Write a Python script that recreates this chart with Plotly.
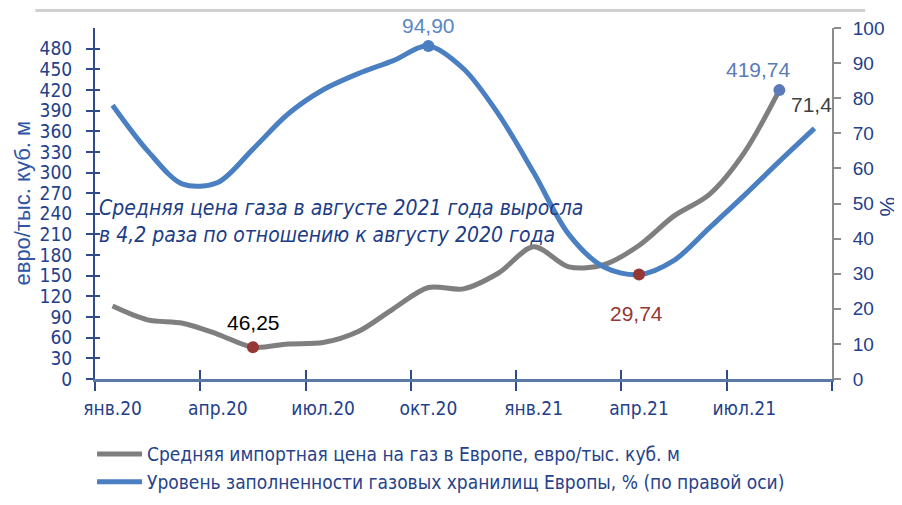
import numpy as np
import plotly.graph_objects as go

months = ["янв.20", "фев.20", "мар.20", "апр.20", "май.20", "июн.20", "июл.20",
          "авг.20", "сен.20", "окт.20", "ноя.20", "дек.20", "янв.21", "фев.21",
          "мар.21", "апр.21", "май.21", "июн.21", "июл.21", "авг.21", "сен.21"]
price = [106, 86, 81, 65, 46.25, 51, 53, 69, 102, 133, 131, 154, 192, 163,
         166, 194, 237, 268, 329, 419.74]
storage = [78, 65, 55.5, 56, 65.5, 75.5, 82.4, 87, 90.7, 94.9, 88.4, 75.4,
           58.8, 41.2, 31.9, 29.74, 33.8, 43, 52.3, 62, 71.4]
tick_labels = ["янв.20", "апр.20", "июл.20", "окт.20", "янв.21", "апр.21", "июл.21"]

price_name = "Средняя импортная цена на газ в Европе, евро/тыс. куб. м"
storage_name = "Уровень заполненности газовых хранилищ Европы, % (по правой оси)"
left_title = "евро/тыс. куб. м"
right_title = "%"
note = ("<i>Средняя цена газа в августе 2021 года выросла<br>"
        "в 4,2 раза по отношению к августу 2020 года</i>")

NARROW = "Liberation Sans Narrow, Arial Narrow, DejaVu Sans Condensed, sans-serif"
LF = "Liberation Sans, Arial, sans-serif"
NAVY = "#24408a"
BLUE = "#4a7fc1"
GRAY = "#7f7f7f"
RED = "#953735"

xpos = np.arange(len(months)) + 0.5
xp = xpos[:len(price)]
label_pos = [xpos[months.index(m)] for m in tick_labels]

i_pmin = int(np.argmin(price))
i_pmax = len(price) - 1
i_smax = int(np.argmax(storage))
i_smin = int(np.argmin(storage))
i_send = len(storage) - 1

fig = go.Figure()
fig.add_trace(go.Scatter(x=xp, y=price, mode="lines", name=price_name,
                         line=dict(color=GRAY, width=5, shape="spline", smoothing=0.9),
                         yaxis="y", xaxis="x"))
fig.add_trace(go.Scatter(x=xpos, y=storage, mode="lines", name=storage_name,
                         line=dict(color=BLUE, width=5, shape="spline", smoothing=0.9),
                         yaxis="y2", xaxis="x"))
fig.add_trace(go.Scatter(x=[xp[i_pmin], xp[i_pmax]], y=[price[i_pmin], price[i_pmax]],
                         mode="markers", showlegend=False,
                         marker=dict(size=12, color=[RED, "#5a7ab8"]), yaxis="y"))
fig.add_trace(go.Scatter(x=[xpos[i_smax], xpos[i_smin]], y=[storage[i_smax], storage[i_smin]],
                         mode="markers", showlegend=False,
                         marker=dict(size=12, color=[BLUE, RED]), yaxis="y2"))

def fmt(v, nd):
    return f"{v:.{nd}f}".replace(".", ",")

anns = [
    dict(x=xpos[i_smax], y=storage[i_smax], yref="y2", text=fmt(storage[i_smax], 2),
         yshift=20, font=dict(color="#5b86c4", size=21, family=LF)),
    dict(x=xp[i_pmax], y=price[i_pmax], yref="y", text=fmt(price[i_pmax], 2),
         yshift=21, xshift=-21, font=dict(color="#5a7ab8", size=21, family=LF)),
    dict(x=xpos[i_send], y=storage[i_send], yref="y2", text=fmt(storage[i_send], 1),
         yshift=24, xshift=-3, font=dict(color="#404040", size=21, family=LF)),
    dict(x=xp[i_pmin], y=price[i_pmin], yref="y", text=fmt(price[i_pmin], 2),
         yshift=25, xshift=1, font=dict(color="#000000", size=21, family=LF)),
    dict(x=xpos[i_smin], y=storage[i_smin], yref="y2", text=fmt(storage[i_smin], 2),
         yshift=-39, xshift=-2, font=dict(color=RED, size=21, family=LF)),
]
for a in anns:
    a.update(xref="x", showarrow=False, xanchor="center", yanchor="middle")
anns.append(dict(xref="paper", yref="paper", x=0.003, y=0.4475, xanchor="left",
                 yanchor="middle", align="left", showarrow=False, text=note,
                 font=dict(family=NARROW, size=21, color="#203c85")))
anns.append(dict(xref="paper", yref="paper", x=-0.099, y=0.5, xanchor="center",
                 yanchor="middle", textangle=-90, showarrow=False, text=left_title,
                 font=dict(family=LF, size=22, color="#2f55a3")))
anns.append(dict(xref="paper", yref="paper", x=1.076, y=0.49, xanchor="center",
                 yanchor="middle", textangle=90, showarrow=False, text=right_title,
                 font=dict(family=LF, size=22, color=NAVY)))

# page is rendered with an 8px body margin, so the margins compensate for it
fig.update_layout(
    width=902, height=505,
    margin=dict(l=87, r=78, t=20, b=123),
    paper_bgcolor="white", plot_bgcolor="white",
    font=dict(family=NARROW, color=NAVY),
    annotations=anns,
    showlegend=True,
    legend=dict(x=-0.004, y=-0.16, xanchor="left", yanchor="top", orientation="v",
                font=dict(family=NARROW, size=19, color="#26428a"),
                bgcolor="rgba(0,0,0,0)", itemwidth=45, tracegroupgap=4),
    shapes=[dict(type="line", xref="paper", yref="paper", x0=-0.081, x1=1.045,
                 y0=1.05, y1=1.05, line=dict(color="#d0d0d0", width=3))],
    xaxis=dict(range=[0, len(months)], tickvals=list(range(0, len(months) + 1, 3)),
               showticklabels=False, ticks="outside", ticklen=9, tickwidth=1.5,
               tickcolor="#2f4b8a", showline=True, linecolor="#5b7aa3", linewidth=2.5,
               showgrid=False, zeroline=False, domain=[0, 1], automargin=False),
    xaxis2=dict(overlaying="x", anchor="y", side="bottom", range=[0, len(months)],
                tickvals=list(range(0, len(months) + 1, 3)), showticklabels=False,
                ticks="inside", ticklen=9, tickwidth=1.5, tickcolor="#2f4b8a",
                showline=False, showgrid=False, zeroline=False, automargin=False),
    xaxis3=dict(overlaying="x", anchor="y", side="bottom", range=[0, len(months)],
                tickvals=label_pos, ticktext=tick_labels, ticks="", showline=False,
                showgrid=False, zeroline=False, ticklabelstandoff=16, automargin=False,
                tickfont=dict(family=NARROW, size=19, color=NAVY)),
    yaxis=dict(range=[0, 510], tickvals=list(range(0, 481, 30)), ticks="outside",
               ticklen=7, tickwidth=1.5, tickcolor="#2f4b8a", showline=True,
               linecolor="#2f4b8a", linewidth=2, showgrid=False, zeroline=False,
               tickfont=dict(family=NARROW, size=19, color=NAVY), ticklabelstandoff=10,
               automargin=False),
    yaxis3=dict(overlaying="y", anchor="x", side="left", range=[0, 510],
                tickvals=list(range(0, 481, 30)), ticks="inside", ticklen=5,
                tickwidth=1.5, tickcolor="#2f4b8a", showticklabels=False,
                showline=False, showgrid=False, zeroline=False, automargin=False),
    yaxis2=dict(overlaying="y", side="right", anchor="x", range=[0, 100], dtick=10,
                ticks="outside", ticklen=7, tickwidth=1.5, tickcolor="#8c8c8c",
                showline=True, linecolor="#8c8c8c", linewidth=2, showgrid=False,
                zeroline=False, ticklabelstandoff=8, automargin=False,
                tickfont=dict(family=LF, size=19, color=NAVY)),
)
fig.add_trace(go.Scatter(x=[None], y=[None], xaxis="x2", yaxis="y3",
                         showlegend=False, hoverinfo="skip"))
fig.add_trace(go.Scatter(x=[None], y=[None], xaxis="x3", yaxis="y3",
                         showlegend=False, hoverinfo="skip"))

fig.write_html("out.html")
